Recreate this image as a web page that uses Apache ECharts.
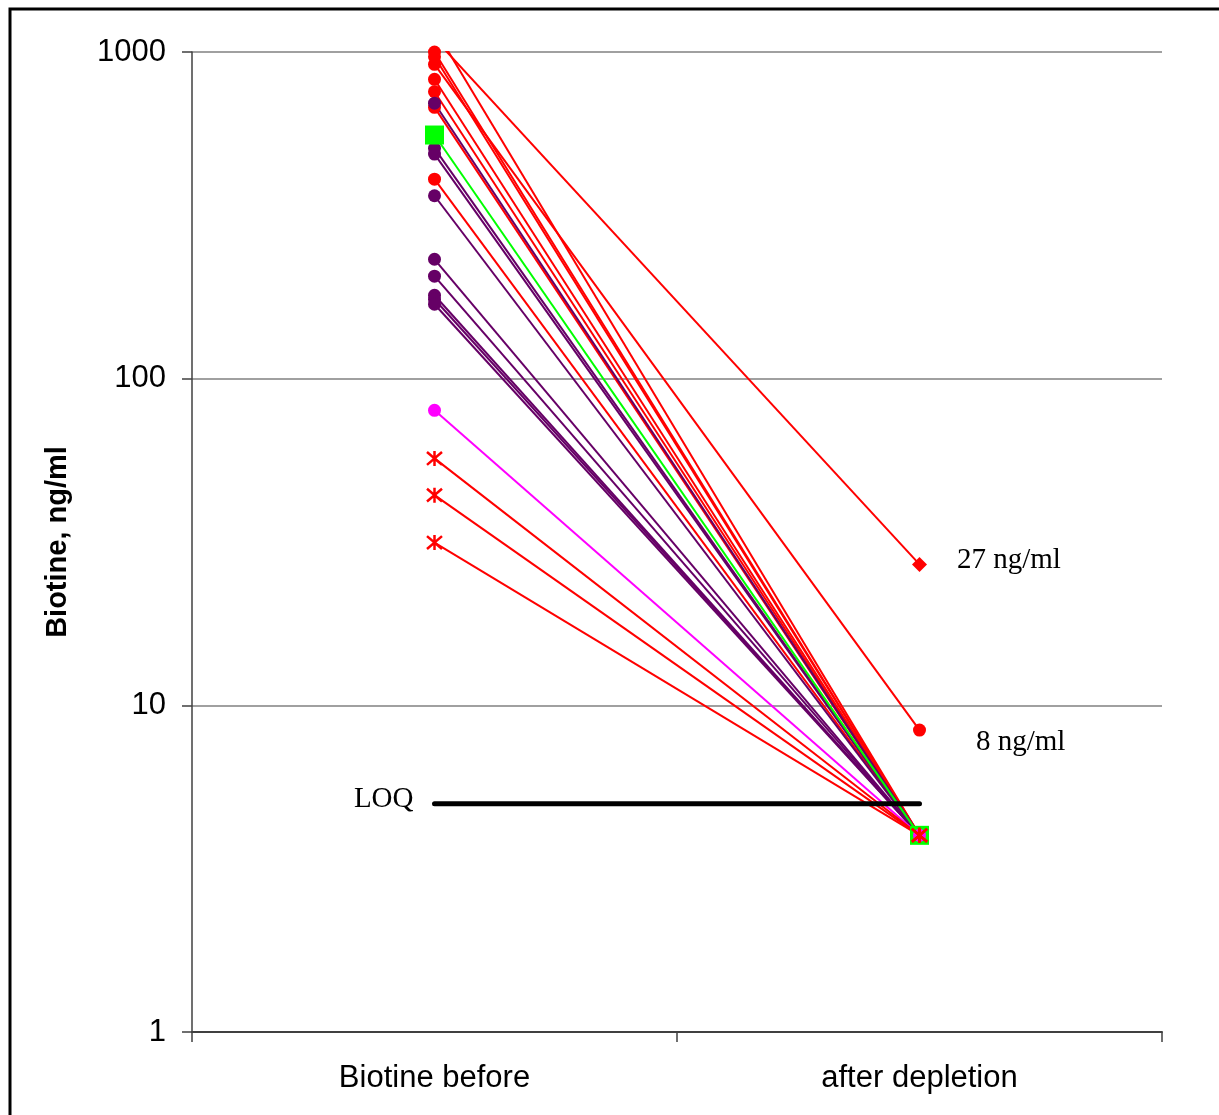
<!DOCTYPE html>
<html>
<head>
<meta charset="utf-8">
<script src="https://cdn.jsdelivr.net/npm/echarts@6/dist/echarts.min.js"></script>
<style>
  html, body { margin: 0; padding: 0; background: #fff; }
  #chart { width: 1219px; height: 1115px; }
</style>
</head>
<body>
<div id="chart"></div>
<script>
// categories and values
var categories = ['Biotine before', 'after depletion'];
var yTicks = [1, 10, 100, 1000];

// red circles, all going down to the common "after" value
var redBefore = [1180, 1000, 967, 825, 756, 677, 408];
// two red patients that stayed above LOQ
var redToEight = [917, 8.4];
var redToTwentySeven = [1100, 27];
var purpleBefore = [697, 507, 487, 363, 232, 206, 180, 175, 169];
var greenBefore = [557];
var magentaBefore = [80];
var starBefore = [57, 44, 31.5];
var afterValue = 4;
var loqLine = [5, 5];

var RED = '#FF0000', PURPLE = '#660066', GREEN = '#00FF00', MAGENTA = '#FF00FF';
var serif = '"Liberation Serif", "DejaVu Serif", serif';
var sans = '"Liberation Sans", Arial, sans-serif';

var starPath = 'path://M0,0L12,12M12,0L0,12M6,-1L6,13';

function pairSeries(before, after, color, symbol, size, extra) {
  var s = {
    type: 'line',
    data: [before, after],
    symbol: symbol,
    symbolSize: size,
    showAllSymbol: true,
    lineStyle: { color: color, width: 2 },
    itemStyle: { color: color },
    emphasis: { disabled: true },
    animation: false
  };
  if (extra) Object.assign(s, extra);
  return s;
}

var series = [];
redBefore.forEach(function (v) {
  series.push(pairSeries(v, afterValue, RED, 'circle', 13));
});
series.push(pairSeries(redToEight[0], {
  value: redToEight[1],
  label: { show: true, formatter: '8 ng/ml', position: 'right', distance: 50, offset: [0, 12],
           fontFamily: serif, fontSize: 29, color: '#000' }
}, RED, 'circle', 13));
series.push(pairSeries(redToTwentySeven[0], {
  value: redToTwentySeven[1],
  label: { show: true, formatter: '27 ng/ml', position: 'right', distance: 30, offset: [0, -4],
           fontFamily: serif, fontSize: 29, color: '#000' }
}, RED, 'diamond', 15));
purpleBefore.forEach(function (v) {
  series.push(pairSeries(v, afterValue, PURPLE, 'circle', 13));
});
greenBefore.forEach(function (v) {
  series.push(pairSeries(v, afterValue, GREEN, 'rect', 19));
});
magentaBefore.forEach(function (v) {
  series.push(pairSeries(v, afterValue, MAGENTA, 'circle', 13));
});
starBefore.forEach(function (v) {
  series.push(pairSeries(v, afterValue, RED, starPath, 15, {
    itemStyle: { color: RED, borderColor: RED, borderWidth: 2.5 }
  }));
});
// LOQ line
series.push({
  type: 'line',
  data: [{
    value: loqLine[0],
    label: { show: true, formatter: 'LOQ', position: 'left', distance: 20, offset: [0, -4],
             fontFamily: serif, fontSize: 29, color: '#000' }
  }, loqLine[1]],
  symbol: 'circle',
  symbolSize: 2,
  showAllSymbol: true,
  itemStyle: { color: '#000' },
  lineStyle: { color: '#000', width: 5, cap: 'round' },
  emphasis: { disabled: true },
  animation: false,
  z: 5
});

var chart = echarts.init(document.getElementById('chart'));
chart.setOption({
  backgroundColor: '#fff',
  animation: false,
  grid: { left: 192, top: 52, right: 57, bottom: 83, containLabel: false },
  graphic: [{
    type: 'rect',
    shape: { x: 10, y: 9, width: 1400, height: 1300 },
    style: { fill: 'none', stroke: '#000', lineWidth: 3 },
    silent: true
  }],
  xAxis: {
    type: 'category',
    data: categories,
    boundaryGap: true,
    axisLine: { lineStyle: { color: '#404040', width: 2 } },
    axisTick: { show: true, interval: 0, length: 10, lineStyle: { color: '#404040', width: 1.5 } },
    axisLabel: { fontFamily: sans, fontSize: 31, color: '#000', margin: 31 },
    splitLine: { show: false }
  },
  yAxis: {
    type: 'log',
    logBase: 10,
    min: yTicks[0],
    max: yTicks[yTicks.length - 1],
    name: 'Biotine, ng/ml',
    nameLocation: 'middle',
    nameRotate: 90,
    nameGap: 120,
    nameTextStyle: { fontFamily: sans, fontSize: 29, fontWeight: 'bold', color: '#000' },
    axisLine: { show: true, lineStyle: { color: '#404040', width: 1.5 } },
    axisTick: { show: true, length: 10, lineStyle: { color: '#404040', width: 1.5 } },
    minorTick: { show: false },
    axisLabel: { fontFamily: sans, fontSize: 31, color: '#000', margin: 26,
                 formatter: function (v) { return String(v); } },
    splitLine: { show: true, lineStyle: { color: '#808080', width: 1.5 } }
  },
  series: series
});
</script>
</body>
</html>
